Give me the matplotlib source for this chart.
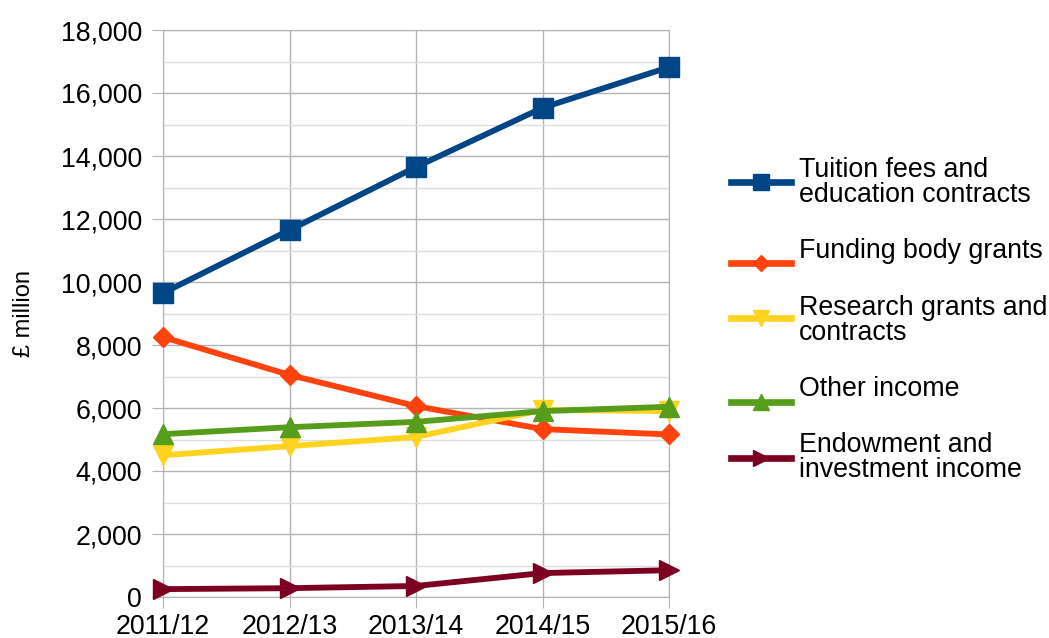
import matplotlib.pyplot as plt
from matplotlib.lines import Line2D
from matplotlib.ticker import FuncFormatter, MultipleLocator

plt.rcParams["font.family"] = ["Liberation Sans", "DejaVu Sans"]

# ── Data (£ million) ─────────────────────────────────────────────
years = ["2011/12", "2012/13", "2013/14", "2014/15", "2015/16"]
tuition   = [9650, 11650, 13650, 15530, 16820]
funding   = [8250, 7050, 6060, 5330, 5160]
research  = [4500, 4790, 5080, 5940, 5900]
other     = [5170, 5390, 5560, 5900, 6040]
endowment = [250, 280, 350, 760, 850]

labels = ["Tuition fees and\neducation contracts", "Funding body grants",
          "Research grants and\ncontracts", "Other income",
          "Endowment and\ninvestment income"]
values = [tuition, funding, research, other, endowment]
colors = ["#004586", "#ff420e", "#ffd320", "#579d1c", "#7e0021"]
markers = ["s", "D", "v", "^", ">"]
msizes = [14, 10, 14, 14, 14]      # plot marker size
lsizes = [12, 8.5, 11.5, 11.5, 11.5]  # legend marker size

GRID_MAJ = "#b3b3b3"
GRID_MIN = "#dddddd"
W, H = 1049, 638

fig = plt.figure(figsize=(W / 100, H / 100), dpi=100)
ax = fig.add_axes([163 / W, 1 - 597 / H, 506 / W, 567 / H])

x = range(len(years))
for lab, vals, col, mk, ms in zip(labels, values, colors, markers, msizes):
    ax.plot(x, vals, color=col, linewidth=4.2, marker=mk, markersize=ms,
            clip_on=False, zorder=3)

ax.set_xlim(0, len(years) - 1)
ax.set_ylim(0, 18000)
ax.set_xticks(list(x))
ax.set_xticklabels(years)
ax.yaxis.set_major_locator(MultipleLocator(2000))
ax.yaxis.set_minor_locator(MultipleLocator(1000))
ax.yaxis.set_major_formatter(FuncFormatter(lambda v, p: f"{int(v):,}"))

ax.grid(True, which="major", color=GRID_MAJ, linewidth=1)
ax.grid(True, which="minor", axis="y", color=GRID_MIN, linewidth=1)
ax.set_axisbelow(True)
for s in ax.spines.values():
    s.set_color(GRID_MAJ)
ax.tick_params(axis="both", which="major", length=8, color=GRID_MAJ,
               labelsize=19.3)
ax.tick_params(axis="y", which="major", pad=7)
ax.tick_params(axis="x", which="major", pad=4)
ax.tick_params(axis="y", which="minor", length=0)

ax.set_ylabel("£ million", fontsize=17, labelpad=18.5)

# ── Legend (drawn by hand to follow the LibreOffice layout) ─────
handle_y = [182, 263, 318, 402, 458]    # px from top
text_base = [177, 258, 315, 396, 452]   # first-line baseline, px from top
line_step = 25
for lab, col, mk, ls, hy, ty in zip(labels, colors, markers, lsizes,
                                     handle_y, text_base):
    yf = 1 - hy / H
    fig.add_artist(Line2D([731 / W, 791 / W], [yf, yf], color=col,
                          linewidth=4.8, transform=fig.transFigure))
    fig.add_artist(Line2D([761 / W], [yf], color=col, marker=mk,
                          markersize=ls, linestyle="none",
                          transform=fig.transFigure))
    for i, line in enumerate(lab.split("\n")):
        fig.text(799 / W, 1 - (ty + i * line_step) / H, line,
                 fontsize=19.3, ha="left", va="baseline")

plt.savefig("out.png", dpi=100)
